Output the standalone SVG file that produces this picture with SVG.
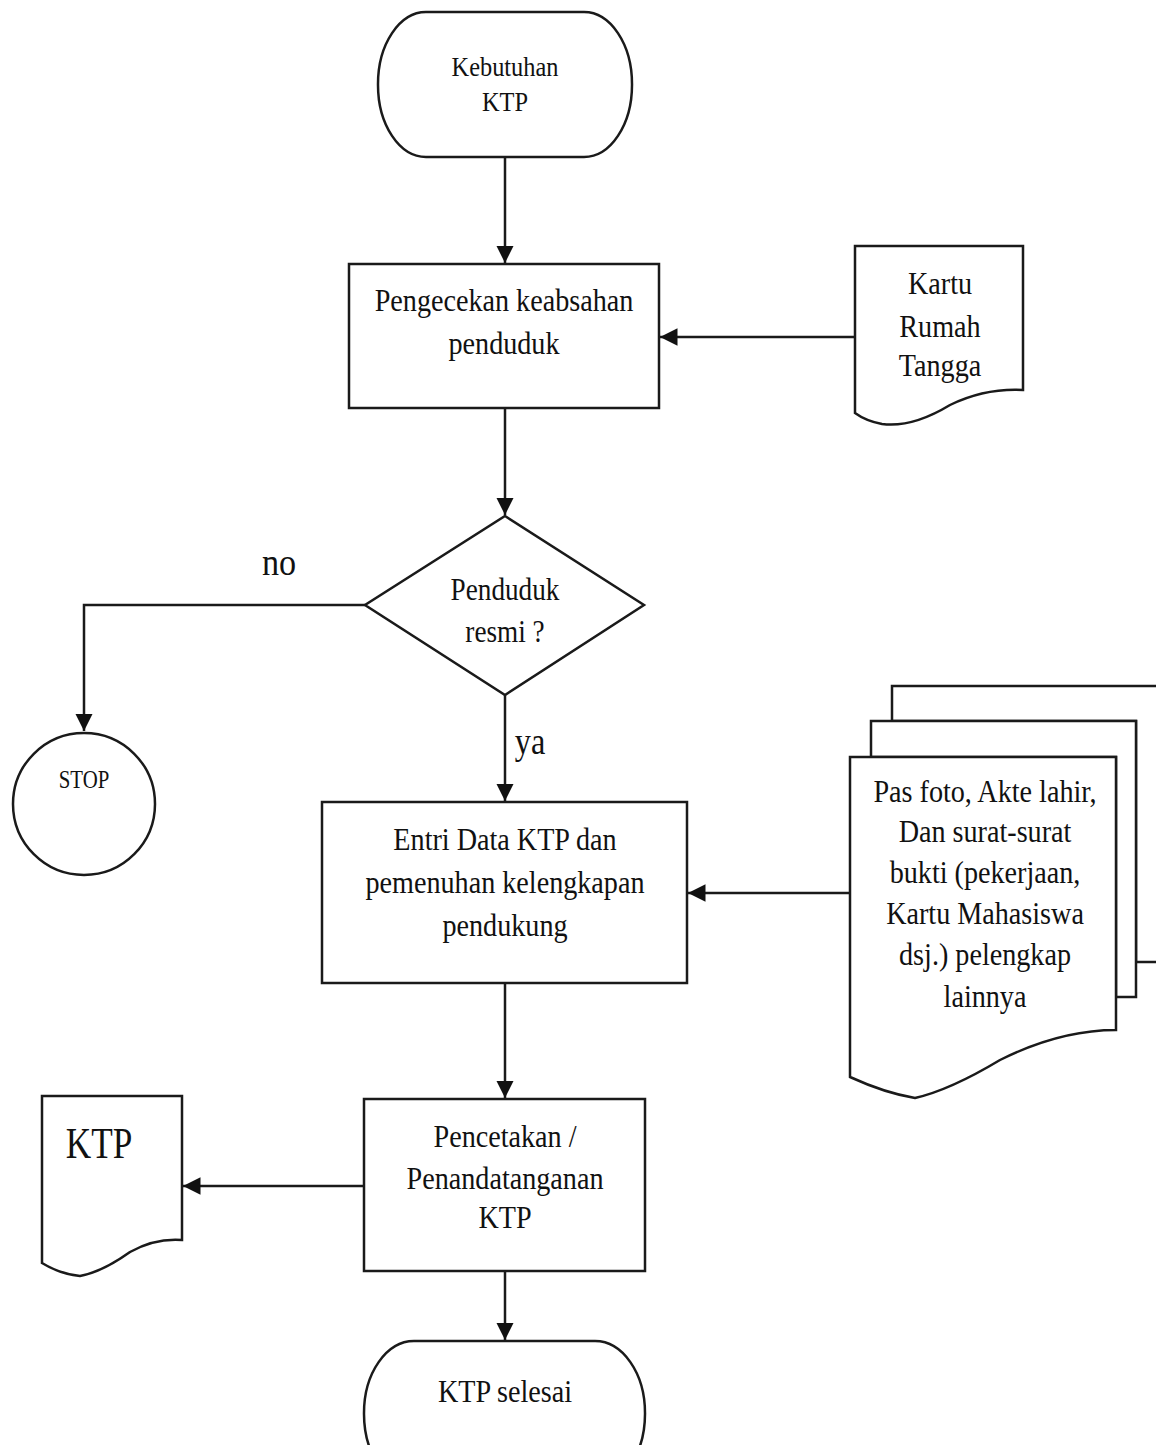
<svg xmlns="http://www.w3.org/2000/svg" width="1156" height="1445" viewBox="0 0 1156 1445">
<defs>
<style>
.s{fill:#fff;stroke:#1a1a1a;stroke-width:2.5}
.l{fill:none;stroke:#1a1a1a;stroke-width:2.5}
text{font-family:"Liberation Serif","Times New Roman",serif;fill:#111;text-anchor:middle}
.t{font-size:32px}
</style>
<marker id="a" viewBox="0 0 10 10" refX="10" refY="5" markerWidth="7" markerHeight="7" markerUnits="strokeWidth" orient="auto">
<path d="M0,0 L10,5 L0,10 Z" fill="#111"/>
</marker>
</defs>
<rect width="1156" height="1445" fill="#fff"/>
<g id="connectors">
<line class="l" x1="505" y1="157" x2="505" y2="263" marker-end="url(#a)"/>
<line class="l" x1="855" y1="337" x2="660" y2="337" marker-end="url(#a)"/>
<line class="l" x1="505" y1="408" x2="505" y2="515" marker-end="url(#a)"/>
<polyline class="l" points="365,605 84,605 84,731" marker-end="url(#a)"/>
<line class="l" x1="505" y1="695" x2="505" y2="801" marker-end="url(#a)"/>
<line class="l" x1="850" y1="893" x2="688" y2="893" marker-end="url(#a)"/>
<line class="l" x1="505" y1="983" x2="505" y2="1098" marker-end="url(#a)"/>
<line class="l" x1="364" y1="1186" x2="183" y2="1186" marker-end="url(#a)"/>
<line class="l" x1="505" y1="1271" x2="505" y2="1340" marker-end="url(#a)"/>
<text transform="translate(279,575) scale(0.9,1)" style="font-size:38px">no</text>
<text transform="translate(530,754) scale(0.85,1)" style="font-size:38px">ya</text>
</g>
<g id="start">
<rect class="s" x="378" y="12" width="254" height="145" rx="48" ry="72"/>
<text class="t" transform="translate(505,76) scale(0.87,1)" style="font-size:28px">Kebutuhan</text>
<text class="t" transform="translate(505,111) scale(0.87,1)" style="font-size:28px">KTP</text>
</g>
<g id="cek">
<rect class="s" x="349" y="264" width="310" height="144"/>
<text class="t" transform="translate(504,311) scale(0.88,1)">Pengecekan keabsahan</text>
<text class="t" transform="translate(504,354) scale(0.88,1)">penduduk</text>
</g>
<g id="kartu">
<path class="s" d="M855,246 H1023 V390 Q985,388 950,405 Q912,428 882,424 Q866,421 855,413 Z"/>
<text class="t" transform="translate(940,294) scale(0.88,1)">Kartu</text>
<text class="t" transform="translate(940,337) scale(0.88,1)">Rumah</text>
<text class="t" transform="translate(940,376) scale(0.88,1)">Tangga</text>
</g>
<g id="decision">
<polygon class="s" points="505,516 644,605 505,695 365,605"/>
<text class="t" transform="translate(505,600) scale(0.85,1)">Penduduk</text>
<text class="t" transform="translate(505,642) scale(0.85,1)">resmi ?</text>
</g>
<g id="stop">
<circle class="s" cx="84" cy="804" r="71"/>
<text transform="translate(84,788) scale(0.8,1)" style="font-size:26px">STOP</text>
</g>
<g id="entri">
<rect class="s" x="322" y="802" width="365" height="181"/>
<text class="t" transform="translate(505,850) scale(0.88,1)">Entri Data KTP dan</text>
<text class="t" transform="translate(505,893) scale(0.88,1)">pemenuhan kelengkapan</text>
<text class="t" transform="translate(505,936) scale(0.88,1)">pendukung</text>
</g>
<g id="dokumen">
<path class="s" d="M892,686 H1160 V962 H1136 V721 H892 Z"/>
<path class="s" d="M871,721 H1136 V997 H1116 V757 H871 Z"/>
<path class="s" d="M850,757 H1116 V1030 Q1060,1030 1000,1060 Q950,1090 915,1098 Q885,1093 850,1077 Z"/>
<text class="t" transform="translate(985,802) scale(0.88,1)">Pas foto, Akte lahir,</text>
<text class="t" transform="translate(985,842) scale(0.88,1)">Dan surat-surat</text>
<text class="t" transform="translate(985,883) scale(0.88,1)">bukti (pekerjaan,</text>
<text class="t" transform="translate(985,924) scale(0.88,1)">Kartu Mahasiswa</text>
<text class="t" transform="translate(985,965) scale(0.88,1)">dsj.) pelengkap</text>
<text class="t" transform="translate(985,1007) scale(0.88,1)">lainnya</text>
</g>
<g id="cetak">
<rect class="s" x="364" y="1099" width="281" height="172"/>
<text class="t" transform="translate(505,1147) scale(0.88,1)">Pencetakan /</text>
<text class="t" transform="translate(505,1189) scale(0.88,1)">Penandatanganan</text>
<text class="t" transform="translate(505,1228) scale(0.88,1)">KTP</text>
</g>
<g id="ktp">
<path class="s" d="M42,1096 H182 V1240 Q155,1238 130,1252 Q102,1272 80,1276 Q60,1274 42,1263 Z"/>
<text transform="translate(99,1158) scale(0.8,1)" style="font-size:44px">KTP</text>
</g>
<g id="end">
<rect class="s" x="364" y="1341" width="281" height="145" rx="50" ry="72"/>
<text class="t" transform="translate(505,1402) scale(0.88,1)">KTP selesai</text>
</g>
</svg>
